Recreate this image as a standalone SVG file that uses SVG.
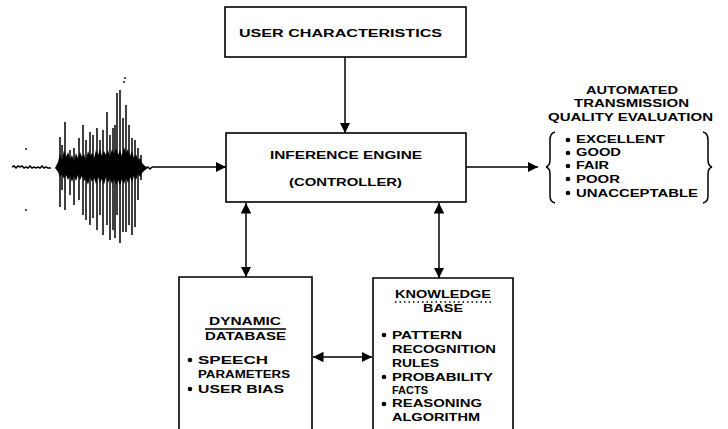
<svg xmlns="http://www.w3.org/2000/svg" width="728" height="429" viewBox="0 0 728 429">
<style>
.box{fill:none;stroke:#000;stroke-width:1.6}
.ln{fill:none;stroke:#000;stroke-width:1.5}
text{font-family:"Liberation Sans",Arial,sans-serif;font-weight:bold;font-size:11px;fill:#000}
.dot{fill:#000}
</style>
<defs>
<marker id="ah" viewBox="0 0 10 10" refX="10" refY="5" markerWidth="7" markerHeight="7" markerUnits="strokeWidth" orient="auto-start-reverse">
<path d="M0,0 L10,5 L0,10 Z" fill="#000"/>
</marker>
</defs>
<rect width="728" height="429" fill="#fff"/>

<g id="waveform">
<path class="ln" stroke-width="1" d="M12,167 l2,-1 l2,2 l2,-2 l2,1 l2,-1 l2,2 l2,-1 l2,1 l2,-2 l2,2 l2,-1 l2,1 l2,-1 l2,1 l2,-2 l2,2 l2,-1 l2,1 l3,0"/>
<path fill="#000" d="M55,168 L58,162 L60,154 L62,160 L64,150 L66,157 L68,152 L70,159 L72,155 L74,161 L76,153 L78,158 L80,152 L82,157 L84,154 L86,160 L88,151 L90,156 L92,153 L94,158 L96,150 L98,155 L100,149 L102,156 L104,151 L106,155 L108,150 L110,157 L112,149 L114,154 L116,148 L118,155 L120,150 L122,156 L124,147 L126,153 L128,149 L130,156 L132,151 L134,158 L136,154 L138,160 L140,158 L142,163 L145,166 L148,168 L145,170 L142,173 L140,177 L138,174 L136,180 L134,176 L132,182 L130,177 L128,183 L126,178 L124,184 L122,179 L120,186 L118,180 L116,185 L114,179 L112,184 L110,178 L108,183 L106,177 L104,185 L102,179 L100,183 L98,177 L96,184 L94,178 L92,182 L90,177 L88,185 L86,179 L84,181 L82,176 L80,180 L78,175 L76,181 L74,176 L72,182 L70,176 L68,180 L66,175 L64,179 L62,174 L60,177 L58,172 Z"/>
<path class="ln" stroke-width="1.2" d="M60,137V207 M62,145V190 M65,122V210 M70,150V195 M74,148V205 M79,138V200 M83,125V215 M86,140V220 M90,132V225 M93,135V218 M97,128V230 M100,140V215 M103,130V235 M107,112V225 M110,135V240 M113,128V230 M115,125V238 M117,93V215 M120,90V243 M123,118V232 M126,105V232 M129,125V225 M132,138V235 M135,140V227 M138,148V200 M141,155V180"/>
<path class="ln" stroke-width="1" d="M145,168 L148,167 L150,169 L152,167"/>
<circle class="dot" cx="26" cy="149" r="0.9"/>
<circle class="dot" cx="26" cy="210" r="0.9"/>
<circle class="dot" cx="124" cy="82" r="0.9"/>
<circle class="dot" cx="125" cy="78" r="0.9"/>
</g>

<g id="user-characteristics">
<rect class="box" x="225" y="7" width="241" height="50"/>
<text x="239" y="37" textLength="203" lengthAdjust="spacingAndGlyphs">USER CHARACTERISTICS</text>
</g>

<g id="inference-engine">
<rect class="box" x="226" y="133" width="240" height="69"/>
<text x="270" y="159" textLength="152" lengthAdjust="spacingAndGlyphs">INFERENCE ENGINE</text>
<text x="289" y="186" textLength="113" lengthAdjust="spacingAndGlyphs">(CONTROLLER)</text>
</g>

<g id="output">
<text x="586" y="94" textLength="92" lengthAdjust="spacingAndGlyphs">AUTOMATED</text>
<text x="574" y="107" textLength="115" lengthAdjust="spacingAndGlyphs">TRANSMISSION</text>
<text x="548" y="121" textLength="165" lengthAdjust="spacingAndGlyphs">QUALITY EVALUATION</text>
<path class="ln" stroke-width="1.2" d="M555,132 Q550,133 550,140 L550,160 Q550,166 546,167 Q550,168 550,174 L550,196 Q550,202 555,203"/>
<path class="ln" stroke-width="1.2" d="M703,132 Q708,133 708,140 L708,160 Q708,166 712,167 Q708,168 708,174 L708,196 Q708,202 703,203"/>
<circle class="dot" cx="568" cy="140" r="2.3"/>
<circle class="dot" cx="568" cy="153" r="2.3"/>
<circle class="dot" cx="568" cy="166" r="2.3"/>
<circle class="dot" cx="568" cy="179" r="2.3"/>
<circle class="dot" cx="568" cy="193" r="2.3"/>
<text x="576" y="143" textLength="89" lengthAdjust="spacingAndGlyphs">EXCELLENT</text>
<text x="576" y="156" textLength="45" lengthAdjust="spacingAndGlyphs">GOOD</text>
<text x="576" y="169" textLength="33" lengthAdjust="spacingAndGlyphs">FAIR</text>
<text x="576" y="183" textLength="44" lengthAdjust="spacingAndGlyphs">POOR</text>
<text x="576" y="197" textLength="122" lengthAdjust="spacingAndGlyphs">UNACCEPTABLE</text>
</g>

<g id="dynamic-database">
<path class="box" d="M179,429 V277 H312 V429"/>
<text x="209" y="325" textLength="72" lengthAdjust="spacingAndGlyphs">DYNAMIC</text>
<line class="ln" stroke-width="1" x1="205" y1="329" x2="286" y2="329"/>
<text x="205" y="340" textLength="81" lengthAdjust="spacingAndGlyphs">DATABASE</text>
<circle class="dot" cx="190" cy="360" r="2.3"/>
<text x="198" y="364" textLength="70" lengthAdjust="spacingAndGlyphs">SPEECH</text>
<text x="198" y="378" textLength="92" lengthAdjust="spacingAndGlyphs">PARAMETERS</text>
<circle class="dot" cx="190" cy="389" r="2.3"/>
<text x="198" y="393" textLength="86" lengthAdjust="spacingAndGlyphs">USER BIAS</text>
</g>

<g id="knowledge-base">
<path class="box" d="M373,429 V278 H513 V429"/>
<text x="395" y="298" textLength="96" lengthAdjust="spacingAndGlyphs">KNOWLEDGE</text>
<line class="ln" stroke-width="0.8" stroke-dasharray="1.5,3" x1="395" y1="302" x2="493" y2="302"/>
<text x="423" y="312" textLength="40" lengthAdjust="spacingAndGlyphs">BASE</text>
<circle class="dot" cx="384" cy="335" r="2.3"/>
<text x="392" y="339" textLength="70" lengthAdjust="spacingAndGlyphs">PATTERN</text>
<text x="392" y="353" textLength="104" lengthAdjust="spacingAndGlyphs">RECOGNITION</text>
<text x="392" y="367" textLength="47" lengthAdjust="spacingAndGlyphs">RULES</text>
<circle class="dot" cx="384" cy="377" r="2.3"/>
<text x="392" y="381" textLength="101" lengthAdjust="spacingAndGlyphs">PROBABILITY</text>
<text x="392" y="394" textLength="36" lengthAdjust="spacingAndGlyphs">FACTS</text>
<circle class="dot" cx="384" cy="404" r="2.3"/>
<text x="392" y="407" textLength="90" lengthAdjust="spacingAndGlyphs">REASONING</text>
<text x="392" y="421" textLength="88" lengthAdjust="spacingAndGlyphs">ALGORITHM</text>
</g>

<g id="connectors">
<line class="ln" x1="152" y1="167" x2="226" y2="167" marker-end="url(#ah)"/>
<line class="ln" x1="345" y1="57" x2="345" y2="133" marker-end="url(#ah)"/>
<line class="ln" x1="466" y1="167" x2="538" y2="167" marker-end="url(#ah)"/>
<line class="ln" x1="246" y1="203" x2="246" y2="277" marker-start="url(#ah)" marker-end="url(#ah)"/>
<line class="ln" x1="439" y1="203" x2="439" y2="278" marker-start="url(#ah)" marker-end="url(#ah)"/>
<line class="ln" x1="313" y1="357" x2="372" y2="357" marker-start="url(#ah)" marker-end="url(#ah)"/>
</g>
</svg>
